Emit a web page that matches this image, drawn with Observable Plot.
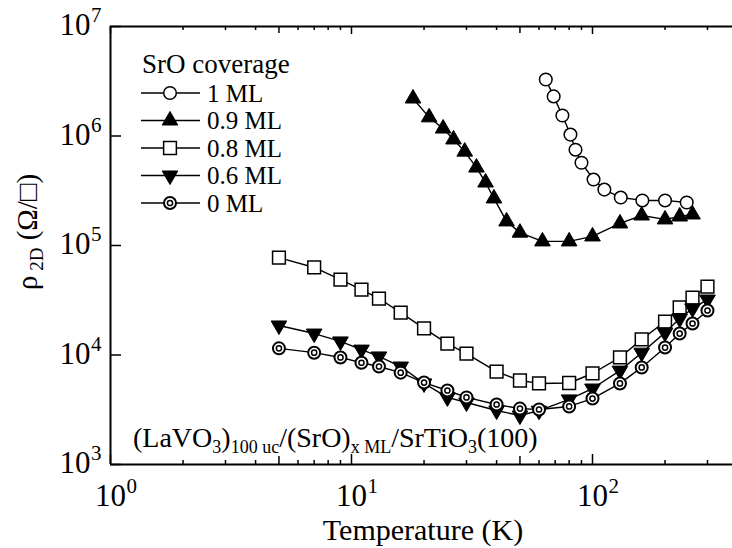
<!DOCTYPE html>
<html><head><meta charset="utf-8">
<script src="https://cdn.jsdelivr.net/npm/d3@7"></script>
<script src="https://cdn.jsdelivr.net/npm/@observablehq/plot@0.6"></script>
<style>html,body{margin:0;padding:0;background:#fff;}</style>
</head><body><div id="chart"></div>
<script>
// ---- data ----
const T_common = [5,7,9,11,13,16,20,25,30,40,50,60,80,100,130,160,200,230,260,300];
const rho_08 = [7.76e4,6.3e4,4.89e4,3.96e4,3.28e4,2.44e4,1.75e4,1.27e4,1.03e4,7.06e3,5.85e3,5.5e3,5.55e3,6.78e3,9.5e3,1.39e4,2.02e4,2.72e4,3.35e4,4.22e4];
const rho_06 = [1.86e4,1.57e4,1.33e4,1.12e4,9.7e3,7.85e3,5.5e3,4.1e3,3.68e3,3.11e3,2.8e3,3.1e3,3.93e3,4.94e3,7.2e3,1.05e4,1.6e4,2.15e4,2.66e4,3.21e4];
const rho_00 = [1.15e4,1.05e4,9.5e3,8.5e3,7.85e3,6.9e3,5.6e3,4.74e3,4.1e3,3.53e3,3.24e3,3.18e3,3.39e3,4.0e3,5.5e3,7.7e3,1.17e4,1.57e4,1.94e4,2.55e4];
const T_09 = [18,21,24,26.5,29.5,33,36,39,44,50,62,80,100,130,160,200,230,260];
const rho_09 = [2.2e6,1.48e6,1.17e6,9.3e5,7.2e5,5.15e5,3.76e5,2.69e5,1.66e5,1.31e5,1.09e5,1.09e5,1.21e5,1.59e5,1.88e5,1.73e5,1.84e5,1.92e5];
const T_10 = [64,69,75,81,85,90,101,112,131,161,200,246];
const rho_10 = [3.28e6,2.3e6,1.54e6,1.03e6,7.5e5,5.7e5,4.0e5,3.24e5,2.74e5,2.58e5,2.58e5,2.47e5];
const seriesLabels = ["1 ML","0.9 ML","0.8 ML","0.6 ML","0 ML"];
const legendTitle = "SrO coverage";
const xMajorTicks = [1,10,100];
const xFiveTicks = [5,50];
const xMinorTicks = [2,3,4,6,7,8,9,20,30,40,60,70,80,90,200,300];
const yMajorTicks = [1e3,1e4,1e5,1e6,1e7];
const xExponents = ["0","1","2"];
const yExponents = ["3","4","5","6","7"];

// ---- build tables ----
const mk = (T, R) => T.map((t,i) => ({T:t, R:R[i]}));
const d10 = mk(T_10, rho_10), d09 = mk(T_09, rho_09), d08 = mk(T_common, rho_08),
      d06 = mk(T_common, rho_06), d00 = mk(T_common, rho_00);

const FONT = "'Liberation Serif','Times New Roman','DejaVu Serif',serif";
const W = 732, H = 548, mL = 110, mR = 0, mT = 26, mB = 84;
const plotH = H - mT - mB;
const plotW = W - mL - mR;

const sqrt3 = Math.sqrt(3);
const triDown = {draw(ctx, size){ const y = -Math.sqrt(size/(sqrt3*3)); ctx.moveTo(0,-y*2); ctx.lineTo(-sqrt3*y, y); ctx.lineTo(sqrt3*y, y); ctx.closePath(); }};

const LW = 1.4;
const lineOf = d => Plot.line(d, {x:"T", y:"R", stroke:"black", strokeWidth: LW});
const rTri = 5.8, rSq = 7.2, rCirc = 6.3;

const plot = Plot.plot({
  width: W, height: H,
  marginLeft: mL, marginRight: mR, marginTop: mT, marginBottom: mB,
  style: {fontFamily: FONT, background: "white", color: "black", overflow: "visible"},
  x: {type: "log", domain: [1, 381], axis: null},
  y: {type: "log", domain: [1e3, 1e7], axis: null},
  marks: [
    Plot.ruleX([1], {stroke:"black", strokeWidth: 2}),
    Plot.ruleY([1e3, 1e7], {stroke:"black", strokeWidth: 2}),
    Plot.tickX(xMajorTicks, {x: d=>d, insetTop: plotH - 10, stroke:"black", strokeWidth: 1.5}),
    Plot.tickX(xFiveTicks, {x: d=>d, insetTop: plotH - 8, stroke:"black", strokeWidth: 1.5}),
    Plot.tickX(xMinorTicks, {x: d=>d, insetTop: plotH - 4, stroke:"black", strokeWidth: 1.5}),
    Plot.tickX(xMajorTicks, {x: d=>d, insetBottom: plotH - 8, stroke:"black", strokeWidth: 1.5}),
    Plot.tickX(xFiveTicks, {x: d=>d, insetBottom: plotH - 7, stroke:"black", strokeWidth: 1.5}),
    Plot.tickX(xMinorTicks, {x: d=>d, insetBottom: plotH - 4, stroke:"black", strokeWidth: 1.5}),
    Plot.tickY(yMajorTicks, {y: d=>d, insetRight: plotW - 11, stroke:"black", strokeWidth: 1.5}),
    Plot.text(xMajorTicks, {x: d=>d, frameAnchor:"bottom", dy: 41, lineAnchor:"bottom", text: ()=>"10", fontSize: 31, textAnchor:"middle"}),
    Plot.text(xMajorTicks, {x: d=>d, frameAnchor:"bottom", dy: 28, lineAnchor:"bottom", text: (d,i)=>xExponents[i], fontSize: 21, textAnchor:"start", dx: 16}),
    Plot.text(yMajorTicks, {y: d=>d, frameAnchor:"left", dx: -20, dy: -1, lineAnchor:"middle", text: ()=>"10", fontSize: 31, textAnchor:"end"}),
    Plot.text(yMajorTicks, {y: d=>d, frameAnchor:"left", dx: -9, dy: -11, lineAnchor:"middle", text: (d,i)=>yExponents[i], fontSize: 21, textAnchor:"end"}),
    lineOf(d10),
    Plot.dot(d10, {x:"T", y:"R", r: rCirc, symbol:"circle", fill:"white", stroke:"black", strokeWidth: 1.5}),
    lineOf(d09),
    Plot.dot(d09, {x:"T", y:"R", r: rTri, symbol:"triangle", fill:"black", stroke:"black", strokeWidth: 1}),
    lineOf(d08),
    Plot.dot(d08, {x:"T", y:"R", r: rSq, symbol:"square", fill:"white", stroke:"black", strokeWidth: 1.5}),
    lineOf(d06),
    Plot.dot(d06, {x:"T", y:"R", r: rTri, symbol: triDown, fill:"black", stroke:"black", strokeWidth: 1}),
    lineOf(d00),
    Plot.dot(d00, {x:"T", y:"R", r: 6, symbol:"circle", fill:"white", stroke:"black", strokeWidth: 2}),
    Plot.dot(d00, {x:"T", y:"R", r: 2.6, symbol:"circle", fill:"white", stroke:"black", strokeWidth: 1.5})
  ]
});
document.getElementById("chart").appendChild(plot);

// ---- legend, annotation, titles ----
const svg = d3.select(plot);
const lg = svg.append("g").style("font-family", FONT).attr("font-size", 25).attr("fill","black").attr("text-anchor","start");
lg.append("text").attr("x", 142).attr("y", 73).attr("font-size", 27).attr("text-anchor","start").text(legendTitle);
const legSyms = [
  {t: d3.symbolCircle, r: rCirc, fill:"white", sw:1.5},
  {t: d3.symbolTriangle, r: rTri, fill:"black", sw:1},
  {t: d3.symbolSquare, r: rSq, fill:"white", sw:1.5},
  {t: triDown, r: rTri, fill:"black", sw:1},
  {t: "bull"}
];
seriesLabels.forEach((lab, i) => {
  const cy = 93 + i * 27.5;
  lg.append("line").attr("x1",141).attr("x2",200).attr("y1",cy).attr("y2",cy).attr("stroke","black").attr("stroke-width",LW);
  const s = legSyms[i];
  if (s.t === "bull") {
    lg.append("circle").attr("cx",170).attr("cy",cy).attr("r",6).attr("fill","white").attr("stroke","black").attr("stroke-width",2);
    lg.append("circle").attr("cx",170).attr("cy",cy).attr("r",2.6).attr("fill","white").attr("stroke","black").attr("stroke-width",1.5);
  } else {
    lg.append("path").attr("transform",`translate(170,${cy})`).attr("d", d3.symbol(s.t, Math.PI*s.r*s.r)())
      .attr("fill", s.fill).attr("stroke","black").attr("stroke-width", s.sw);
  }
  lg.append("text").attr("x",207).attr("y",cy).attr("dy","0.35em").attr("text-anchor","start").text(lab);
});

// annotation
const an = svg.append("text").attr("x",133).attr("y",447).attr("text-anchor","start")
  .style("font-family",FONT).attr("font-size",28).attr("fill","black");
const parts = [["(LaVO",0],["3",1],[")",0],["100 uc",1],["/(SrO)",0],["x ML",1],["/SrTiO",0],["3",1],["(100)",0]];
let cur = 0;
parts.forEach(([t, sub]) => {
  const target = sub ? 6 : 0;
  an.append("tspan").attr("dy", target - cur).attr("font-size", sub ? 18 : 28).text(t);
  cur = target;
});

// x title
svg.append("text").attr("x", 423).attr("y", 540).attr("text-anchor","middle")
  .style("font-family",FONT).attr("font-size",30).attr("fill","black").text("Temperature (K)");

// y title
const yt = svg.append("text").attr("transform","translate(37,232) rotate(-90)").attr("text-anchor","middle")
  .style("font-family",FONT).attr("font-size",29).attr("fill","black");
yt.append("tspan").text("ρ");
yt.append("tspan").attr("font-size",19).attr("dy",6).text(" 2D");
yt.append("tspan").attr("dy",-6).text(" (Ω/□)");
</script>
</body></html>
